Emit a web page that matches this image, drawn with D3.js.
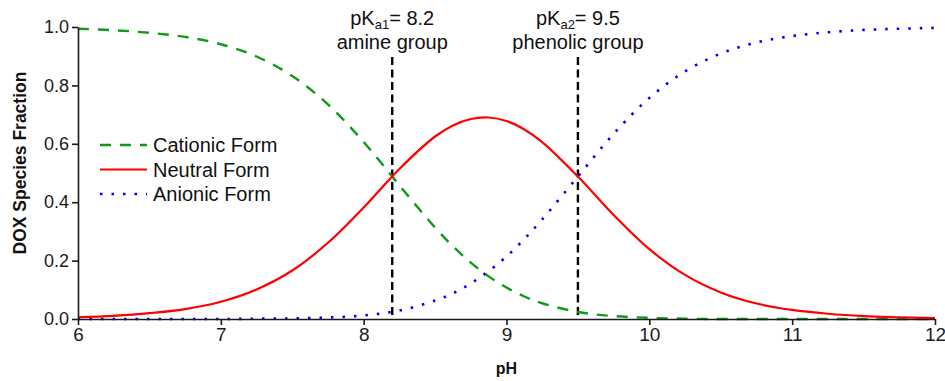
<!DOCTYPE html>
<meta charset="utf-8">
<style>
  body {
    margin: 0;
    background: #fff;
    font-family: "Liberation Sans", Arial, Helvetica, sans-serif;
  }

  #chart {
    width: 945px;
    height: 381px;
    display: block;
  }

  .axis path, .axis line {
    stroke: #1a1a1a;
    stroke-width: 1.6px;
  }

  .axis text {
    fill: #1a1a1a;
  }
</style>
<body>
  <svg id="chart"></svg>
</body>

<script src="https://cdnjs.cloudflare.com/ajax/libs/d3/7.8.5/d3.min.js"></script>
<script>

// pH values (a bit denser around the peak)
var phValues = [6, 6.25, 6.5, 6.75, 7, 7.25, 7.5, 7.75, 8, 8.25, 8.5, 8.625, 8.75, 8.875,
  9, 9.125, 9.25, 9.5, 9.75, 10, 10.25, 10.5, 10.75, 11, 11.25, 11.5, 11.75, 12];

// fraction of each species at those pH values
var cationic = [0.994, 0.989, 0.980, 0.966, 0.941, 0.899, 0.832, 0.735, 0.606, 0.458, 0.313, 0.249, 0.193, 0.146,
  0.108, 0.077, 0.054, 0.024, 0.010, 0.004, 0.001, 0.000, 0.000, 0.000, 0.000, 0.000, 0.000, 0.000];
var neutral = [0.006, 0.011, 0.020, 0.034, 0.059, 0.101, 0.166, 0.261, 0.382, 0.514, 0.625, 0.663, 0.685, 0.690,
  0.678, 0.649, 0.606, 0.488, 0.356, 0.239, 0.151, 0.091, 0.053, 0.031, 0.018, 0.010, 0.006, 0.003];
var anionic = [0.000, 0.000, 0.000, 0.000, 0.000, 0.001, 0.002, 0.005, 0.012, 0.029, 0.063, 0.088, 0.122, 0.164,
  0.214, 0.274, 0.341, 0.488, 0.634, 0.757, 0.848, 0.909, 0.947, 0.969, 0.982, 0.990, 0.994, 0.997];

var xTicks = [6, 7, 8, 9, 10, 11, 12];
var yTicks = [0, 0.2, 0.4, 0.6, 0.8, 1.0];

// pKa markers
var pkaValues = [8.2, 9.5];
var pkaSubs = ["a1", "a2"];
var pkaGroups = ["amine group", "phenolic group"];

var seriesNames = ["Cationic Form", "Neutral Form", "Anionic Form"];
var seriesData = [cationic, neutral, anionic];

// ---- layout ----
var svg = d3.select("#chart");
var mLeft = 78, mRight = 935, mTop = 27, mBottom = 319;

var x = d3.scaleLinear().domain([6, 12]).range([mLeft, mRight]),
  y = d3.scaleLinear().domain([0, 1]).range([mBottom, mTop]);

var styles = [
  { color: "#119a19", width: 2.4, dash: "11,9" },
  { color: "#ff0000", width: 2.2, dash: null },
  { color: "#0000ff", width: 2.6, dash: "2.5,9" }
];

// pKa dashed lines
svg.selectAll("line.pka").data(pkaValues).enter().append("line")
  .attr("class", "pka")
  .attr("x1", function (d) { return x(d); })
  .attr("x2", function (d) { return x(d); })
  .attr("y1", 57)
  .attr("y2", mBottom)
  .attr("stroke", "#000")
  .attr("stroke-width", 2.4)
  .attr("stroke-dasharray", "8,4.5");

// pKa labels
var pkaText = svg.selectAll("g.pkalabel").data(pkaValues).enter().append("g")
  .attr("class", "pkalabel")
  .attr("transform", function (d) { return "translate(" + x(d) + ",0)"; })
  .attr("font-size", "20px")
  .attr("fill", "#111")
  .attr("text-anchor", "middle");

var line1 = pkaText.append("text").attr("y", 25);
line1.append("tspan").text("pK");
line1.append("tspan")
  .attr("font-size", "13px")
  .attr("dy", 4)
  .text(function (d, i) { return pkaSubs[i]; });
line1.append("tspan")
  .attr("dy", -4)
  .text(function (d) { return "= " + d3.format(".1f")(d); });

pkaText.append("text")
  .attr("y", 49)
  .text(function (d, i) { return pkaGroups[i]; });

// curves
var line = d3.line()
  .x(function (d, i) { return x(phValues[i]); })
  .y(function (d) { return y(d); })
  .curve(d3.curveCatmullRom.alpha(0.5));

// draw anionic, cationic, then neutral on top
[2, 0, 1].forEach(function (k) {
  svg.append("path")
    .datum(seriesData[k])
    .attr("d", line)
    .attr("fill", "none")
    .attr("stroke", styles[k].color)
    .attr("stroke-width", styles[k].width)
    .attr("stroke-dasharray", styles[k].dash);
});

// axes
svg.append("g")
  .attr("class", "axis")
  .attr("transform", "translate(0," + mBottom + ")")
  .call(d3.axisBottom(x).tickValues(xTicks).tickSize(6).tickSizeOuter(0).tickPadding(3).tickFormat(d3.format("d")))
  .call(function (g) { g.selectAll("text").attr("font-size", "19px").attr("font-family", null); });

svg.append("g")
  .attr("class", "axis")
  .attr("transform", "translate(" + mLeft + ",0)")
  .call(d3.axisLeft(y).tickValues(yTicks).tickSize(6).tickSizeOuter(0).tickPadding(3).tickFormat(d3.format(".1f")))
  .call(function (g) { g.selectAll("text").attr("font-size", "18px").attr("font-family", null); });

// axis titles
svg.append("text")
  .attr("x", (mLeft + mRight) / 2)
  .attr("y", 374)
  .attr("text-anchor", "middle")
  .attr("font-size", "16px")
  .attr("font-weight", "bold")
  .attr("fill", "#111")
  .text("pH");

svg.append("text")
  .attr("transform", "translate(26,163) rotate(-90)")
  .attr("text-anchor", "middle")
  .attr("font-size", "17.5px")
  .attr("font-weight", "bold")
  .attr("fill", "#111")
  .text("DOX Species Fraction");

// legend
var legend = svg.selectAll("g.legend").data(seriesNames).enter().append("g")
  .attr("class", "legend")
  .attr("transform", function (d, i) { return "translate(100," + (145 + i * 24.5) + ")"; });

legend.append("line")
  .attr("x1", 0).attr("x2", 47)
  .attr("stroke", function (d, i) { return styles[i].color; })
  .attr("stroke-width", function (d, i) { return styles[i].width; })
  .attr("stroke-dasharray", function (d, i) { return styles[i].dash; });

legend.append("text")
  .attr("x", 53)
  .attr("dy", "0.35em")
  .attr("font-size", "20px")
  .attr("fill", "#111")
  .text(function (d) { return d; });

</script>
